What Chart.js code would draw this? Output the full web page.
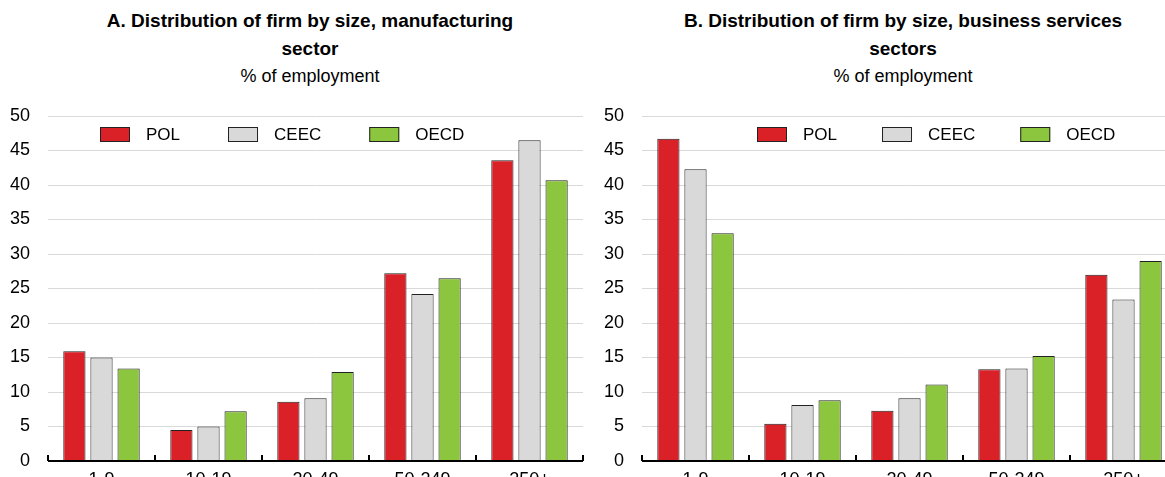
<!DOCTYPE html>
<html>
<head>
<meta charset="utf-8">
<script src="https://cdn.jsdelivr.net/npm/chart.js@4.4.1/dist/chart.umd.min.js"></script>
<style>
    html, body { margin: 0; padding: 0; background: #fff; overflow: hidden; }
    body { width: 1165px; height: 477px; position: relative; }
    .titre {
        position: absolute; top: 7px; text-align: center;
        font-family: 'Liberation Sans', Arial, sans-serif;
        font-size: 18px; line-height: 27px; color: #000;
    }
    .titre b { font-weight: bold; font-size: 19px; }
    .cadre { position: absolute; top: 0; height: 501px; }
</style>
</head>
<body>
<div class="titre" style="left:100px;width:420px"><b>A. Distribution of firm by size, manufacturing sector</b><br>% of employment</div>
<div class="titre" style="left:683px;width:440px"><b>B. Distribution of firm by size, business services sectors</b><br>% of employment</div>
<div class="cadre" style="left:0;width:590px"><canvas id="graphique-manuf"></canvas></div>
<div class="cadre" style="left:590px;width:590px"><canvas id="graphique-services"></canvas></div>
<script>
/* ─── Données ───────────────────────────────────────────── */
const CATEGORIES = ['1-9', '10-19', '20-49', '50-249', '250+'];
const SERIES     = ['POL', 'CEEC', 'OECD'];
const Y_TICKS    = [0, 5, 10, 15, 20, 25, 30, 35, 40, 45, 50];

const manufPOL  = [15.9, 4.5, 8.6, 27.2, 43.6];
const manufCEEC = [15.0, 5.0, 9.1, 24.2, 46.5];
const manufOECD = [13.4, 7.2, 12.9, 26.5, 40.7];

const servPOL  = [46.7, 5.4, 7.3, 13.3, 27.0];
const servCEEC = [42.3, 8.1, 9.1, 13.4, 23.4];
const servOECD = [33.0, 8.8, 11.1, 15.2, 29.0];

const COULEURS = ['#da2128', '#d9d9d9', '#8cc63f'];
const POLICE   = "'Liberation Sans', Arial, sans-serif";

/* Légende dessinée dans la zone du graphique (comme l'original) */
const legendeInterne = {
    id: 'legendeInterne',
    afterDraw(chart, args, opts) {
        const ctx = chart.ctx;
        const y = chart.chartArea.top + 11;
        let x = chart.chartArea.left + opts.decalage;
        ctx.save();
        ctx.font = '17px ' + POLICE;
        ctx.textBaseline = 'middle';
        chart.data.datasets.forEach(ds => {
            ctx.fillStyle = ds.backgroundColor;
            ctx.fillRect(x, y, 30, 15);
            ctx.strokeStyle = '#222';
            ctx.lineWidth = 1;
            ctx.strokeRect(x + 0.5, y + 0.5, 29, 14);
            ctx.fillStyle = '#000';
            ctx.fillText(ds.label, x + 46, y + 8);
            x += 46 + ctx.measureText(ds.label).width + opts.ecart;
        });
        ctx.restore();
    },
};

/* Axe horizontal + petits traits entre catégories, vers le haut */
const traitsCategories = {
    id: 'traitsCategories',
    afterDatasetsDraw(chart) {
        const sx = chart.scales.x;
        const ctx = chart.ctx;
        const bas = chart.chartArea.bottom;
        const pas = sx.getPixelForValue(1) - sx.getPixelForValue(0);
        ctx.save();
        ctx.strokeStyle = '#000';
        ctx.lineWidth = 2;
        ctx.beginPath();
        ctx.moveTo(chart.chartArea.left, bas);
        ctx.lineTo(chart.chartArea.right, bas);
        for (let i = 0; i <= CATEGORIES.length; i++) {
            const px = Math.round(sx.getPixelForValue(0) - pas / 2 + i * pas);
            ctx.moveTo(px, bas);
            ctx.lineTo(px, bas - 6);
        }
        ctx.stroke();
        ctx.restore();
    },
};

function creerGraphique(id, valeurs, gauche, decalage, ecart) {
    return new Chart(document.getElementById(id), {
        type: 'bar',
        data: {
            labels: CATEGORIES,
            datasets: SERIES.map((nom, i) => ({
                label: nom,
                data: valeurs[i],
                backgroundColor: COULEURS[i],
                borderColor: '#222',
                borderWidth: 1,
                categoryPercentage: 0.76,
                barPercentage: 0.82,
            })),
        },
        options: {
            responsive: true,
            maintainAspectRatio: false,
            animation: false,
            layout: { padding: { top: 116, left: 0, right: 590 - gauche - 535, bottom: 0 } },
            plugins: {
                legend: { display: false },
                tooltip: { enabled: false },
                legendeInterne: { decalage, ecart },
            },
            scales: {
                x: {
                    grid: { display: false, drawTicks: false },
                    border: { display: false },
                    ticks: { color: '#000', font: { family: POLICE, size: 18 }, padding: 8 },
                    afterFit: s => { s.height = 40; },
                },
                y: {
                    min: 0,
                    max: 50,
                    afterBuildTicks: s => { s.ticks = Y_TICKS.map(v => ({ value: v })); },
                    grid: { color: '#d9d9d9', lineWidth: 1, drawTicks: false },
                    border: { display: false },
                    ticks: { color: '#000', font: { family: POLICE, size: 18 }, padding: 18 },
                    afterFit: s => { s.width = gauche; },
                },
            },
        },
        plugins: [legendeInterne, traitsCategories],
    });
}

creerGraphique('graphique-manuf', [manufPOL, manufCEEC, manufOECD], 48, 52, 48);
creerGraphique('graphique-services', [servPOL, servCEEC, servOECD], 52, 115, 45);
</script>
</body>
</html>
